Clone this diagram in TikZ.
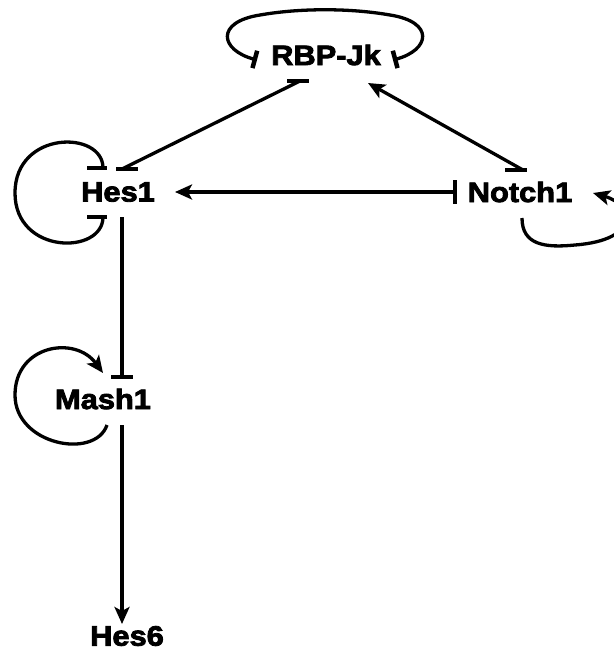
\documentclass[tikz,border=0pt]{standalone}
\usepackage{fontspec}
\newfontfamily\labfont{Liberation Sans}[BoldFeatures={FakeBold=3,FakeStretch=1.1}]
\usetikzlibrary{arrows.meta,calc}
\begin{document}
\begin{tikzpicture}[x=1pt,y=-1pt,
  lab/.style={font=\labfont\bfseries\fontsize{28}{30}\selectfont, inner sep=0pt},
  edge/.style={line width=3.3pt, black},
  act/.style={edge, -{Stealth[length=17pt,width=15pt,inset=4pt]}},
  barseg/.style={line width=4.8pt, black},
  inhtip/.style={edge, {Bar[width=18pt,line width=4.5pt]}-{Bar[width=18pt,line width=4.5pt]}}
]
\useasboundingbox (0,0) rectangle (613,653);

\node[lab] (RBP) at (326,55) {RBP-Jk};
\node[lab] (Hes1) at (118,192) {Hes1};
\node[lab] (Notch1) at (520,192) {Notch1};
\node[lab] (Mash1) at (103,399) {Mash1};
\node[lab] (Hes6) at (127,636) {Hes6};

% Hes1 -- RBP-Jk (mutual inhibition)
\draw[edge] ($(Hes1)+(4,-23)$) -- ($(RBP)+(-26,26)$);
\draw[barseg] ($(Hes1)+(-2,-23)$) -- ($(Hes1)+(20,-23)$);
\draw[barseg] ($(RBP)+(-39,26)$) -- ($(RBP)+(-17,26)$);

% Notch1 -> RBP-Jk
\draw[act] ($(Notch1)+(3,-22)$) -- ($(RBP)+(42,28)$);
\draw[barseg] ($(Notch1)+(-15,-22)$) -- ($(Notch1)+(7,-22)$);

% Notch1 -> Hes1
\draw[act] ($(Notch1)+(-65,0)$) -- ($(Hes1)+(57,0)$);
\draw[barseg] ($(Notch1)+(-65,-12)$) -- ($(Notch1)+(-65,12)$);

% Hes1 -| Mash1
\draw[edge] ($(Hes1)+(4,25)$) -- ($(Mash1)+(19,-22)$);
\draw[barseg] ($(Mash1)+(8,-22)$) -- ($(Mash1)+(30,-22)$);

% Mash1 -> Hes6
\draw[act] ($(Mash1)+(19,26)$) -- ($(Hes6)+(-5,-12)$);

% RBP-Jk self loop
\begin{scope}[shift={(RBP.center)}]
\draw[inhtip] (-69,5) .. controls (-106,-5) and (-111,-33) .. (-66,-40)
  .. controls (-26,-47) and (24,-47) .. (64,-40)
  .. controls (109,-33) and (104,-5) .. (67,5);
\end{scope}

% Hes1 self loop
\begin{scope}[shift={(Hes1.center)}]
\draw[edge] (-15,-24) .. controls (-15,-62) and (-103,-62) .. (-103,1)
  .. controls (-103,63) and (-15,63) .. (-15,25);
\draw[barseg] (-31,-24) -- (-11,-24);
\draw[barseg] (-31,25) -- (-11,25);
\end{scope}

% Mash1 self loop
\begin{scope}[shift={(Mash1.center)}]
\draw[act] (4,26) .. controls (-8,61) and (-88,46) .. (-88,-4)
  .. controls (-88,-54) and (-28,-64) .. (0,-26);
\end{scope}

% Notch1 self loop
\begin{scope}[shift={(Notch1.center)}]
\draw[act] (2,26) .. controls (2,53) and (25,56) .. (55,53)
  .. controls (120,48) and (115,13) .. (73,1);
\end{scope}
\end{tikzpicture}
\end{document}
